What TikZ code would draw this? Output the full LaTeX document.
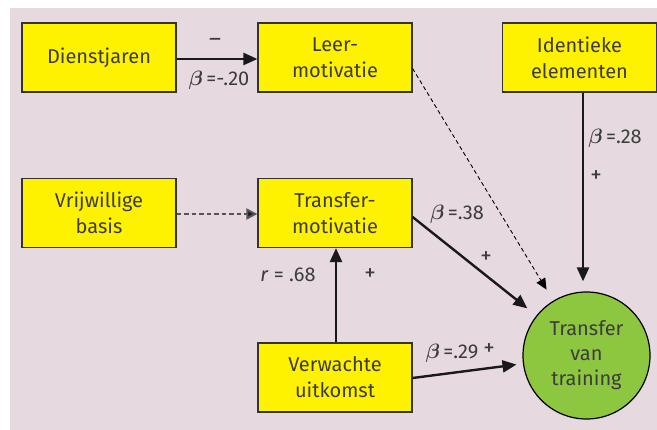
\documentclass[tikz,border=0pt]{standalone}
\usepackage{fontspec}
\setmainfont{Fira Sans}
\usepackage{bm}
\usetikzlibrary{arrows.meta,calc}

\definecolor{panel}{HTML}{E6D9DF}
\definecolor{boxfill}{HTML}{FFF200}
\definecolor{goal}{HTML}{8DC63F}
\definecolor{ink}{HTML}{333333}
\definecolor{label}{HTML}{3C3C3C}
\definecolor{dashink}{HTML}{555555}

\tikzset{
  factor/.style={draw=ink, line width=1.2pt, fill=boxfill, text=label,
    minimum width=154pt, minimum height=69pt, inner sep=0pt, align=center,
    font=\fontsize{20}{26}\selectfont},
  outcome/.style={circle, draw=black, line width=1.2pt, fill=goal, text=label,
    minimum size=127pt, inner sep=0pt, align=center,
    font=\fontsize{20}{25}\selectfont},
  effect/.style={draw=black!90, line width=2.4pt,
    -{Triangle[length=14pt,width=12pt]}},
  weak/.style={draw=black, line width=0.9pt, dash pattern=on 4pt off 3pt,
    -{Triangle[length=11pt,width=10pt]}},
  choice/.style={draw=dashink, line width=2pt, dash pattern=on 4.5pt off 3pt,
    -{Triangle[length=11pt,width=11pt,fill=black!90]}},
  coef/.style={text=label, inner sep=0pt, font=\fontsize{20}{22}\selectfont},
  sign/.style={text=label, inner sep=0pt, font=\fontsize{23}{24}\selectfont}
}

\begin{document}
\begin{tikzpicture}[x=1pt,y=-1pt]
  \useasboundingbox (0,0) rectangle (657,430);
  \fill[panel] (10,8) rectangle (657,430);

  % predictors and mediators
  \node[factor] (dien) at (99,57.5)    {Dienstjaren};
  \node[factor] (leer) at (335,57.5)   {Leer-\\motivatie};
  \node[factor] (iden) at (579.5,57.5) {Identieke\\elementen};
  \node[factor] (vrij) at (99,213)     {Vrijwillige\\basis};
  \node[factor] (trans) at (335,213)   {Transfer-\\motivatie};
  \node[factor] (verw) at (335,377.5)  {Verwachte\\uitkomst};

  % outcome
  \node[outcome] (goal) at (586.5,355.5) {Transfer\\van\\training};

  % paths
  \draw[effect] ($(dien.east)+(0,1.5)$) -- ($(leer.west)+(0,1.5)$);
  \draw[weak, shorten >=13pt] ($(leer.east)+(0,11)$) -- (goal);
  \draw[effect, shorten >=10pt] ([xshift=3.5pt]iden.south) -- ([xshift=3.5pt]iden.south |- goal.north);
  \draw[choice] ($(vrij.east)+(0,1)$) -- ($(trans.west)+(0,1)$);
  \draw[effect, shorten >=11.5pt] ($(trans.east)+(0,4)$) -- (goal);
  \draw[effect] ([xshift=1pt]verw.north) -- ([xshift=1pt]trans.south);
  \draw[effect, shorten >=6.5pt] ($(verw.east)+(0,0.5)$) -- (goal);

  % coefficients and signs
  \node[sign] (s1) at (215,42) {–};
  \node[coef] (c1) at (219,80) {$\bm{\beta}$\,=-.20};
  \node[coef] (c2) at (615,138) {$\bm{\beta}$\,=.28};
  \node[sign] (s2) at (596,177) {+};
  \node[coef] (c3) at (457,214) {$\bm{\beta}$\,=.38};
  \node[sign] (s3) at (486,258) {+};
  \node[coef] (c4) at (288,275) {\textit{r} = .68};
  \node[sign] (s4) at (370,275) {+};
  \node[coef] (c5) at (452,353) {$\bm{\beta}$\,=.29};
  \node[sign] (s5) at (489,350) {+};
\end{tikzpicture}
\end{document}
